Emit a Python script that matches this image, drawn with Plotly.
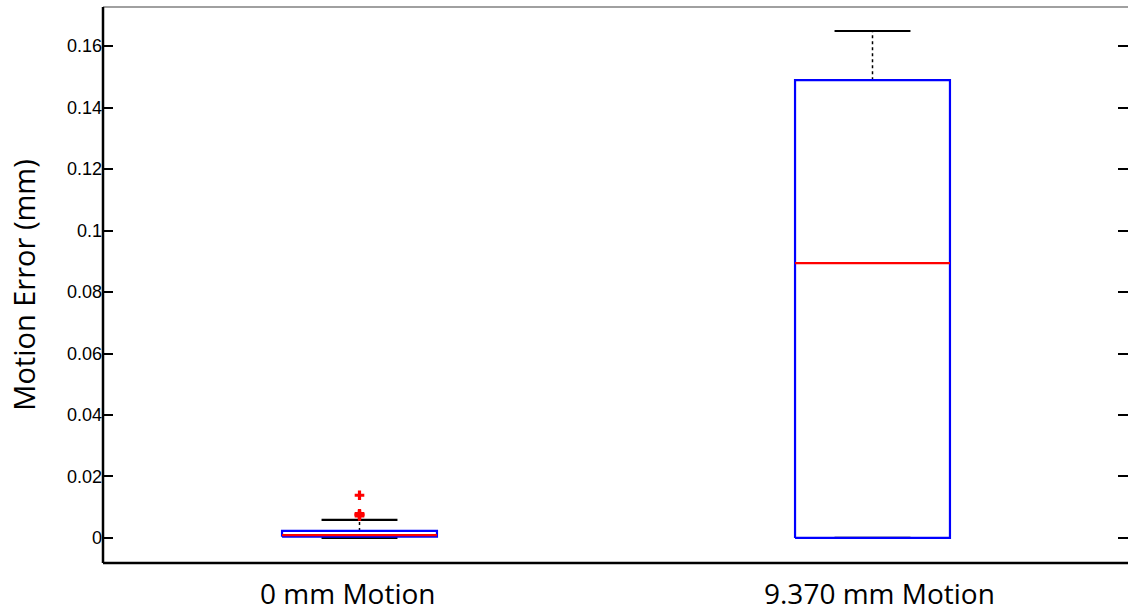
import plotly.graph_objects as go

# Summary statistics of motion error per condition (mm)
categories = ["0 mm Motion", "9.370 mm Motion"]
lower_whisker = [0.0, 0.0]
q1 = [0.0004, 0.0]
median = [0.0009, 0.0894]
q3 = [0.0023, 0.1489]
upper_whisker = [0.0059, 0.1649]
outliers = [[0.0139, 0.0079, 0.0077, 0.0075, 0.0072], []]

y_ticks = [0, 0.02, 0.04, 0.06, 0.08, 0.1, 0.12, 0.14, 0.16]
y_tick_text = ["0", "0.02", "0.04", "0.06", "0.08", "0.1", "0.12", "0.14", "0.16"]

BOX_HALF = 0.151
CAP_HALF = 0.074
label_shift = [-12, 7]

fig = go.Figure()

for i, name in enumerate(categories):
    x = i + 1
    # whiskers (dotted)
    fig.add_trace(go.Scatter(
        x=[x, x, None, x, x],
        y=[q3[i], upper_whisker[i], None, lower_whisker[i], q1[i]],
        mode="lines", line=dict(color="black", width=1.5, dash="dot"),
        hoverinfo="skip", showlegend=False))
    # whisker caps
    fig.add_trace(go.Scatter(
        x=[x - CAP_HALF, x + CAP_HALF, None, x - CAP_HALF, x + CAP_HALF],
        y=[upper_whisker[i], upper_whisker[i], None, lower_whisker[i], lower_whisker[i]],
        mode="lines", line=dict(color="black", width=2.2),
        hoverinfo="skip", showlegend=False))
    # box
    fig.add_trace(go.Scatter(
        x=[x - BOX_HALF, x + BOX_HALF, x + BOX_HALF, x - BOX_HALF, x - BOX_HALF],
        y=[q1[i], q1[i], q3[i], q3[i], q1[i]],
        mode="lines", line=dict(color="#0000ff", width=2.2),
        hoverinfo="skip", showlegend=False))
    # median
    fig.add_trace(go.Scatter(
        x=[x - BOX_HALF, x + BOX_HALF], y=[median[i], median[i]],
        mode="lines", line=dict(color="#ff0000", width=2.2),
        hoverinfo="skip", showlegend=False))
    # outliers
    if outliers[i]:
        fig.add_trace(go.Scatter(
            x=[x] * len(outliers[i]), y=outliers[i], mode="markers",
            marker=dict(symbol="cross", size=8, color="#ff0000"),
            hoverinfo="skip", showlegend=False))
    # category label
    fig.add_annotation(
        x=x, y=0, xref="x", yref="paper", text=name, showarrow=False,
        xanchor="center", yanchor="top", xshift=label_shift[i], yshift=-9,
        font=dict(family="Open Sans", size=28, color="black"))

fig.update_layout(
    width=1128, height=611,
    margin=dict(l=103, r=0, t=7, b=48),
    paper_bgcolor="white", plot_bgcolor="white",
    xaxis=dict(range=[0.5, 0.5 + 1025 / 513], showgrid=False, zeroline=False,
               showticklabels=False, ticks="", showline=False, fixedrange=True),
    yaxis=dict(range=[-0.00814, 0.1727], showgrid=False, zeroline=False,
               tickvals=y_ticks, ticktext=y_tick_text, ticks="inside", ticklen=10,
               tickwidth=2, tickcolor="black", mirror="ticks", showline=False,
               tickfont=dict(family="Liberation Sans", size=18, color="black"),
               title=dict(text="Motion Error (mm)", standoff=22,
                          font=dict(family="Open Sans", size=29, color="black"))),
    shapes=[
        dict(type="line", xref="paper", yref="paper", x0=0, x1=1, y0=1, y1=1,
             line=dict(color="#808080", width=1.5)),
        dict(type="line", xref="paper", yref="paper", x0=0, x1=0, y0=0, y1=1,
             line=dict(color="black", width=2.5)),
        dict(type="line", xref="paper", yref="paper", x0=0, x1=1, y0=0, y1=0,
             line=dict(color="black", width=2.5)),
    ],
)

fig.write_html("out.html")
